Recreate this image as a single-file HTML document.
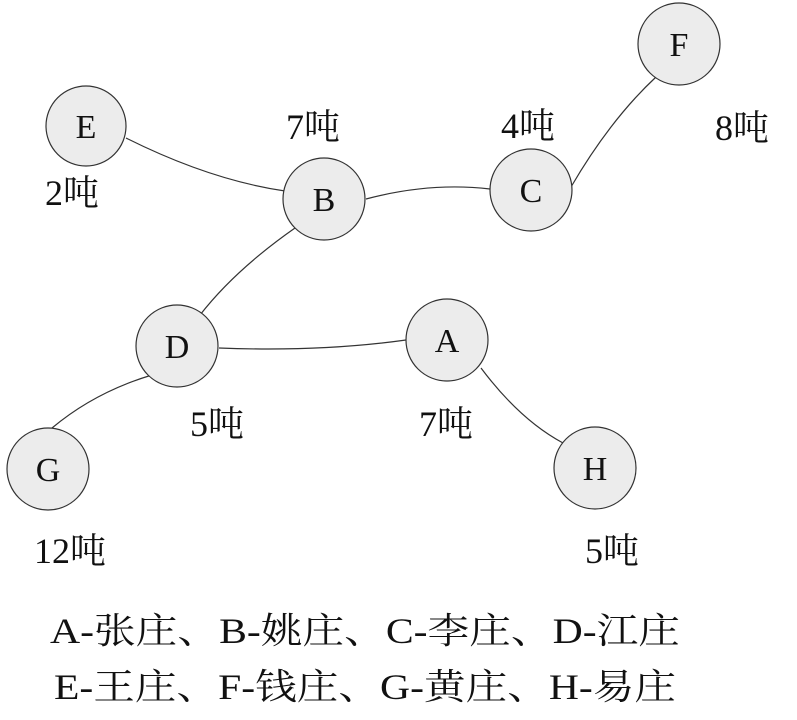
<!DOCTYPE html>
<html><head><meta charset="utf-8"><style>
html,body{margin:0;padding:0;background:#fff;}
svg text{font-family:"Liberation Serif","Noto Serif CJK SC",serif;fill:#111;}
</style></head><body>
<svg width="797" height="715" viewBox="0 0 797 715" xmlns="http://www.w3.org/2000/svg">
<g fill="none" stroke="#333" stroke-width="1.2">
<path d="M126,138 Q210,180 285,191"/>
<path d="M366,199 Q430,182 490,189"/>
<path d="M571,187 Q610,120 656,77"/>
<path d="M295,228 Q235,270 200,315"/>
<path d="M219,348 Q320,352 406,340"/>
<path d="M481,368 Q520,420 563,443"/>
<path d="M152,375 Q95,392 52,428"/>
</g>
<g fill="#ececec" stroke="#333" stroke-width="1.2">
<circle cx="86" cy="126" r="40"/>
<circle cx="324" cy="199" r="41"/>
<circle cx="531" cy="190" r="41"/>
<circle cx="679" cy="44" r="41"/>
<circle cx="177" cy="346" r="41"/>
<circle cx="447" cy="340" r="41"/>
<circle cx="48" cy="469" r="41"/>
<circle cx="595" cy="468" r="41"/>
</g>
<g font-size="34" text-anchor="middle">
<text x="86" y="138">E</text>
<text x="324" y="211">B</text>
<text x="531" y="202">C</text>
<text x="679" y="56">F</text>
<text x="177" y="358">D</text>
<text x="447" y="352">A</text>
<text x="48" y="481">G</text>
<text x="595" y="480">H</text>
</g>
<g font-size="36" text-anchor="middle">
<text x="313" y="139">7吨</text>
<text x="528" y="138">4吨</text>
<text x="742" y="140">8吨</text>
<text x="72" y="205">2吨</text>
<text x="217" y="436">5吨</text>
<text x="446" y="436">7吨</text>
<text x="70" y="563">12吨</text>
<text x="612" y="563">5吨</text>
</g>
<g font-size="36">
<text x="50" y="643" textLength="630" lengthAdjust="spacingAndGlyphs">A-张庄、B-姚庄、C-李庄、D-江庄</text>
<text x="54" y="699" textLength="622" lengthAdjust="spacingAndGlyphs">E-王庄、F-钱庄、G-黄庄、H-易庄</text>
</g>
</svg>
</body></html>
